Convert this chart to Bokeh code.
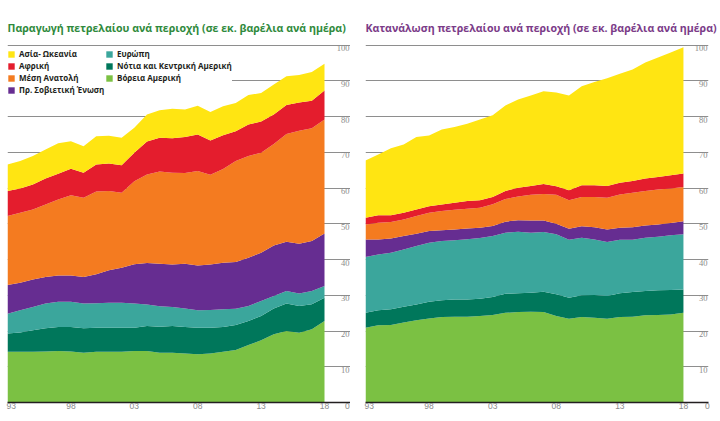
from bokeh.plotting import figure
from bokeh.models import (ColumnDataSource, Range1d, FixedTicker, Grid, Legend, LegendItem,
                          LabelSet, CustomJSTickFormatter)
from bokeh.layouts import row
from bokeh.embed import file_html
from bokeh.resources import INLINE

years = list(range(1993, 2019))

# Production (million barrels per day), stacked bottom -> top
prod_north_america = [14.2, 14.2, 14.2, 14.3, 14.4, 14.3, 13.9, 14.2, 14.2, 14.2, 14.4, 14.4, 13.9,
                      13.9, 13.7, 13.5, 13.7, 14.2, 14.7, 16.1, 17.4, 19.1, 20.0, 19.5, 20.5, 22.8]
prod_south_central_america = [5.1, 5.4, 6.0, 6.5, 6.7, 6.8, 6.9, 6.7, 6.7, 6.7, 6.5, 7.0, 7.3,
                              7.5, 7.4, 7.4, 7.2, 6.9, 7.0, 6.7, 6.8, 7.2, 7.7, 7.5, 7.0, 6.5]
prod_europe = [5.5, 6.2, 6.5, 6.9, 7.1, 7.1, 6.9, 6.9, 7.0, 7.0, 6.8, 6.0, 5.7,
               5.3, 5.2, 4.9, 5.0, 5.0, 4.5, 4.2, 4.2, 3.5, 3.5, 3.5, 3.7, 3.3]
prod_former_ussr = [8.1, 7.7, 7.7, 7.4, 7.3, 7.3, 7.4, 8.1, 9.1, 9.8, 11.0, 11.6, 11.9,
                    11.9, 12.5, 12.5, 12.7, 13.0, 13.1, 13.5, 13.5, 14.1, 13.8, 13.9, 14.0, 14.7]
prod_middle_east = [19.3, 19.6, 19.6, 20.3, 21.3, 22.5, 22.2, 23.1, 22.2, 21.0, 23.2, 24.8, 25.8,
                    25.7, 25.4, 26.5, 25.1, 26.2, 28.3, 28.5, 28.0, 28.4, 30.1, 31.6, 31.5, 31.9]
prod_africa = [7.0, 6.8, 7.0, 7.3, 7.2, 7.4, 7.0, 7.6, 7.7, 7.7, 8.0, 9.2, 9.5,
               9.6, 10.1, 10.2, 9.6, 9.5, 8.3, 8.8, 8.7, 8.3, 8.1, 7.9, 7.7, 8.1]
prod_asia_oceania = [7.4, 7.7, 8.0, 8.1, 8.5, 7.7, 7.4, 7.9, 7.7, 7.7, 7.0, 7.6, 7.7,
                     8.3, 7.7, 8.0, 8.0, 8.1, 7.9, 8.2, 8.0, 8.4, 8.1, 7.7, 8.1, 7.5]

# Consumption (million barrels per day), stacked bottom -> top
cons_north_america = [20.9, 21.6, 21.7, 22.4, 23.0, 23.5, 23.9, 24.0, 24.0, 24.2, 24.5, 25.1, 25.3,
                      25.4, 25.3, 24.2, 23.4, 23.9, 23.7, 23.4, 23.9, 24.0, 24.4, 24.5, 24.6, 25.1]
cons_south_central_america = [4.2, 4.2, 4.4, 4.4, 4.4, 4.7, 4.7, 4.8, 4.8, 4.8, 5.0, 5.3, 5.3,
                              5.3, 5.7, 6.1, 5.9, 6.1, 6.4, 6.4, 6.7, 6.9, 6.8, 6.9, 6.9, 6.5]
cons_europe = [15.6, 15.6, 15.8, 16.0, 16.4, 16.5, 16.6, 16.6, 16.9, 17.0, 17.1, 17.1, 17.2,
               16.8, 16.7, 16.8, 16.2, 16.1, 15.5, 15.1, 14.9, 14.6, 14.9, 15.0, 15.3, 15.5]
cons_former_ussr = [4.9, 4.2, 4.0, 3.8, 3.4, 3.3, 3.0, 3.0, 3.0, 2.9, 2.8, 3.1, 3.2,
                    3.4, 3.2, 2.9, 3.1, 3.2, 3.4, 3.5, 3.4, 3.5, 3.4, 3.4, 3.4, 3.6]
cons_middle_east = [4.2, 4.7, 4.6, 4.6, 5.0, 5.1, 5.4, 5.5, 5.5, 5.6, 6.1, 6.3, 6.6,
                    7.2, 7.4, 8.1, 8.0, 8.2, 8.5, 8.9, 9.3, 9.7, 9.7, 9.8, 9.7, 9.6]
cons_africa = [1.9, 2.1, 1.9, 1.9, 1.8, 1.8, 1.8, 2.0, 2.2, 2.1, 2.0, 2.3, 2.5,
               2.5, 2.8, 2.4, 2.8, 3.3, 3.3, 3.3, 3.3, 3.3, 3.5, 3.5, 3.7, 3.8]
cons_asia_oceania = [16.0, 17.0, 18.7, 19.1, 20.3, 19.8, 21.0, 21.2, 21.6, 22.6, 22.9, 23.9, 24.7,
                     25.3, 26.0, 26.2, 26.5, 27.7, 28.9, 30.1, 30.5, 31.2, 32.4, 33.4, 34.3, 35.3]

region_keys = ["na", "sca", "eu", "fsu", "me", "af", "as"]
region_labels = ["Βόρεια Αμερική", "Νότια και Κεντρική Αμερική", "Ευρώπη", "Πρ. Σοβιετική Ένωση",
                 "Μέση Ανατολή", "Αφρική", "Ασία- Ωκεανία"]
region_colors = ["#7bc143", "#00775b", "#3ba69c", "#662d91", "#f47b20", "#e41d2d", "#ffe512"]
legend_order = [6, 5, 4, 3, 2, 1, 0]

y_ticks = [0, 10, 20, 30, 40, 50, 60, 70, 80, 90, 100]
y_tick_labels = ["0", "10", "20", "30", "40", "50", "60", "70", "80", "90", "100"]
x_ticks = [1993.3, 1998, 2003, 2008, 2013, 2018]

production = [prod_north_america, prod_south_central_america, prod_europe, prod_former_ussr,
              prod_middle_east, prod_africa, prod_asia_oceania]
consumption = [cons_north_america, cons_south_central_america, cons_europe, cons_former_ussr,
               cons_middle_east, cons_africa, cons_asia_oceania]

FRAME_H = 361
Y_END = 101
FONT = "Open Sans"
GREY = "#8a8a8a"


def make_chart(title, title_color, series, x_end, zero_x, border_left, frame_width, border_right,
               with_legend):
    data = {"year": years}
    for k, v in zip(region_keys, series):
        data[k] = v
    src = ColumnDataSource(data)
    p = figure(frame_width=frame_width, frame_height=FRAME_H, output_backend="svg",
               toolbar_location=None, x_range=Range1d(years[0], x_end), y_range=Range1d(0, Y_END),
               y_axis_location=None, min_border_left=border_left, min_border_right=border_right,
               min_border_top=0, min_border_bottom=0, title=title,
               background_fill_color="white", border_fill_color="white", outline_line_color=None)
    p.grid.visible = False
    p.add_layout(Grid(dimension=1, ticker=FixedTicker(ticks=y_ticks),
                      grid_line_color="#8e8e8e", grid_line_width=1))

    rs = p.varea_stack(stackers=region_keys, x="year", color=region_colors, source=src)

    p.title.text_font = FONT
    p.title.text_font_size = "10.6px"
    p.title.text_font_style = "bold"
    p.title.text_color = title_color
    p.title.align = "left"
    p.title.offset = 0
    p.title.standoff = 13
    p.title.padding = (0, 0, 12, 0)

    # x axis; the y-axis "0" sits on the same label row, at the right end
    ax = p.xaxis[0]
    ax.ticker = FixedTicker(ticks=x_ticks + [zero_x])
    ax.formatter = CustomJSTickFormatter(
        args=dict(zero_at=zero_x, zero_label=y_tick_labels[0]),
        code="if (Math.abs(tick - zero_at) < 1e-6) { return zero_label; } "
             "return String(Math.round(tick) % 100).padStart(2, '0');")
    ax.axis_line_color = "#231f20"
    ax.axis_line_width = 1.5
    ax.major_tick_line_color = None
    ax.minor_tick_line_color = None
    ax.major_tick_out = 0
    ax.major_tick_in = 0
    ax.major_label_standoff = 0
    ax.major_label_text_font = "Liberation Sans"
    ax.major_label_text_font_size = "8.5px"
    ax.major_label_text_color = GREY

    lab_src = ColumnDataSource(dict(x=[x_end] * (len(y_ticks) - 1), y=y_ticks[1:],
                                    t=y_tick_labels[1:]))
    p.add_layout(LabelSet(x="x", y="y", text="t", source=lab_src, text_align="right",
                          text_baseline="top", x_offset=-1, text_font="Liberation Sans",
                          text_font_size="8.5px", text_color=GREY))

    if with_legend:
        items = [LegendItem(label=region_labels[i], renderers=[rs[i]]) for i in legend_order]
        legend = Legend(items=items, ncols=2, location=(0, FRAME_H - 6.5 - 48), margin=0, padding=0,
                        spacing=0, glyph_width=8, glyph_height=8, label_standoff=4,
                        label_height=12, label_width=86,
                        background_fill_color="white", background_fill_alpha=1.0,
                        border_line_color=None, label_text_font=FONT,
                        label_text_font_size="8px", label_text_font_style="bold",
                        label_text_color="#231f20")
        p.add_layout(legend)
    return p


p1 = make_chart("Παραγωγή πετρελαίου ανά περιοχή (σε εκ. βαρέλια ανά ημέρα)", "#2f8a3c",
                production, 2020.05, 2019.81, 7, 343, 0, True)
p2 = make_chart("Κατανάλωση πετρελαίου ανά περιοχή (σε εκ. βαρέλια ανά ημέρα)", "#7b3b88",
                consumption, 2019.97, 2019.89, 15, 343, 12, False)

layout = row(p1, p2)
open("out.html", "w").write(file_html(layout, INLINE))
